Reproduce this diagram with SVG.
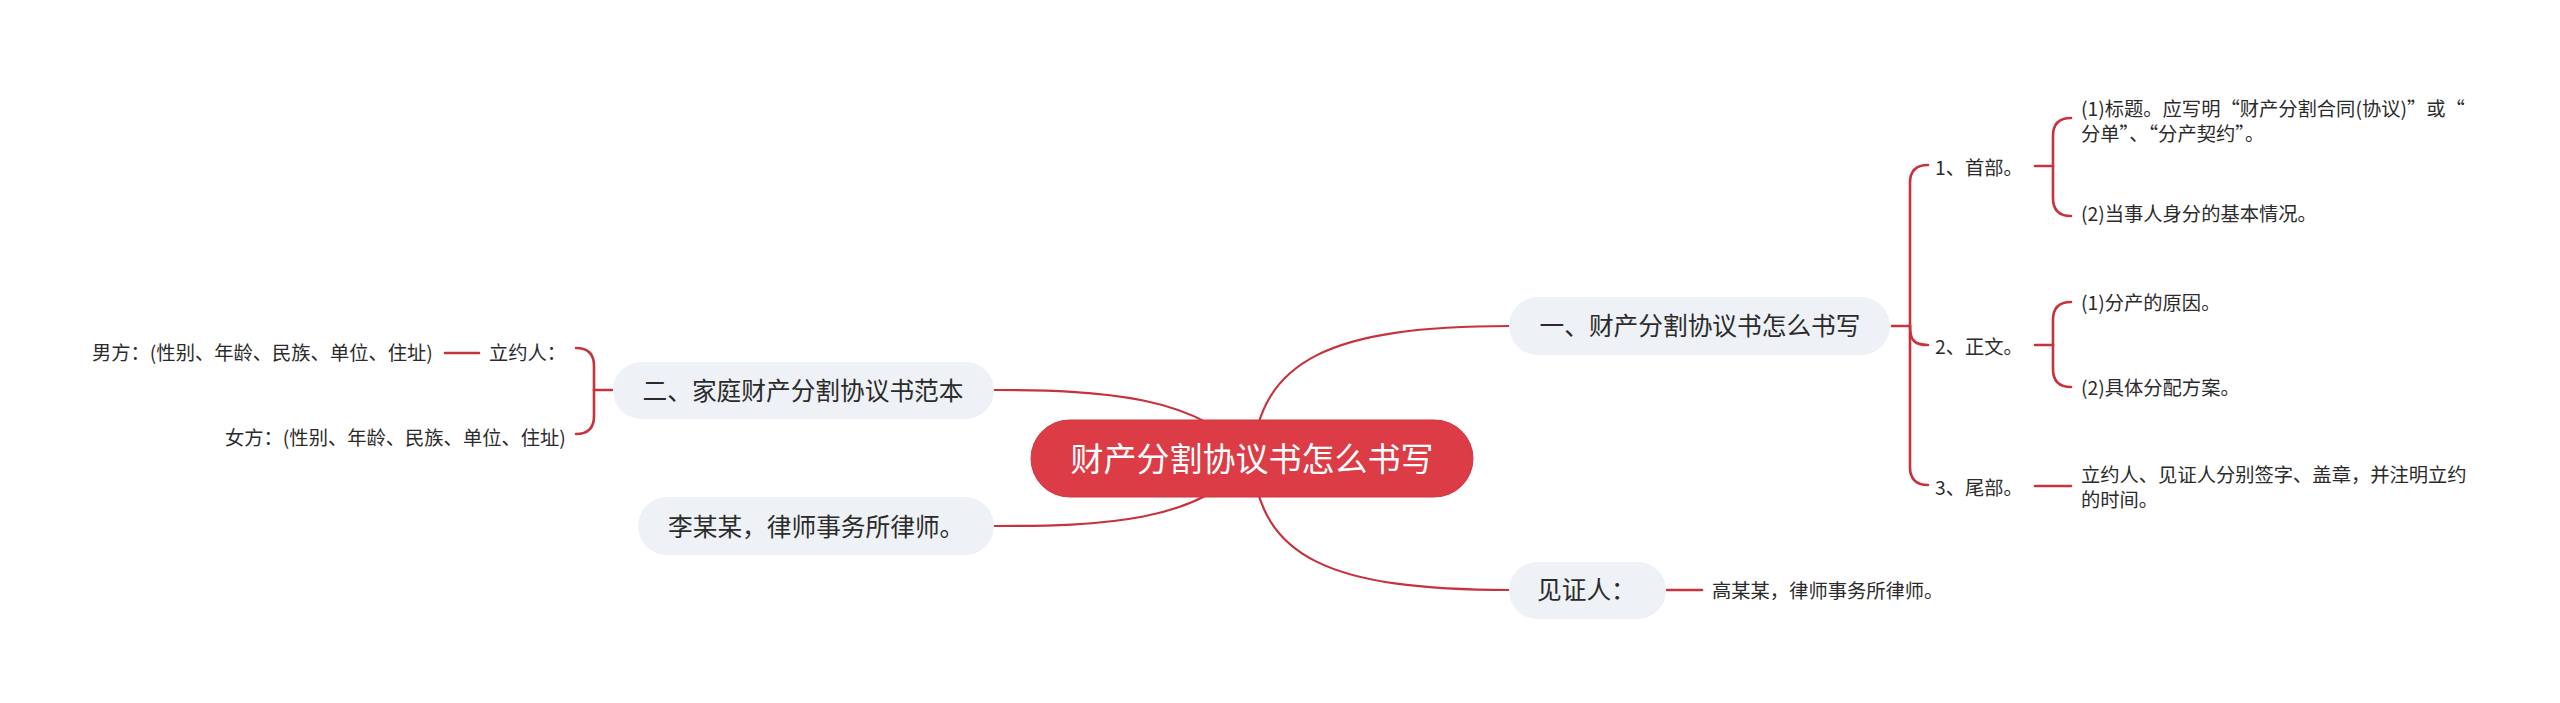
<svg xmlns="http://www.w3.org/2000/svg" width="2560" height="703" viewBox="0 0 2560 703">
<style>
text{font-family:"Noto Sans CJK SC","Noto Sans",sans-serif;fill:#2b2b2b}
.c{fill:none;stroke:#c8323d;stroke-width:2.2;stroke-linecap:round}
.t{fill:none;stroke:#c8323d;stroke-width:2.6;stroke-linecap:round}
.n{fill:#eef1f5}
.f1{font-size:33px;fill:#ffffff}
.f2{font-size:24.7px}
.f3{font-size:19.3px}
</style>
<rect width="2560" height="703" fill="#ffffff"/>
<g id="connectors">
<path class="c" d="M1252,459 C1260,360 1330,326 1510,326"/>
<path class="c" d="M1252,459 C1260,558 1330,590 1510,590"/>
<path class="c" d="M1252,459 C1200,395 1100,390 994,390"/>
<path class="c" d="M1252,459 C1200,523 1100,526 994,526"/>
<path class="t" d="M1892,326 H1910"/>
<path class="t" d="M1910,326 V183 Q1910,165 1928,165"/>
<path class="t" d="M1910,326 C1910,340 1914,345 1928,345"/>
<path class="t" d="M1910,326 V467 Q1910,485 1928,485"/>
<path class="t" d="M2035,166 H2053"/>
<path class="t" d="M2053,166 V136 Q2053,118 2071,118"/>
<path class="t" d="M2053,166 V198 Q2053,216 2071,216"/>
<path class="t" d="M2035,345 H2053"/>
<path class="t" d="M2053,345 V320 Q2053,302 2071,302"/>
<path class="t" d="M2053,345 V369 Q2053,387 2071,387"/>
<path class="t" d="M2035,486 H2071"/>
<path class="t" d="M1667,590 H1702"/>
<path class="t" d="M612,390 H594"/>
<path class="t" d="M594,390 V366 Q594,348 576,348"/>
<path class="t" d="M594,390 V416 Q594,434 576,434"/>
<path class="t" d="M445,353 H479"/>
</g>
<g id="root">
<rect x="1031" y="420" width="442" height="77" rx="38.5" fill="#db3c46" stroke="#cf3540" stroke-width="1"/>
<text class="f1" x="1252" y="471" text-anchor="middle">财产分割协议书怎么书写</text>
</g>
<g id="n1">
<rect class="n" x="1509" y="297" width="381" height="58" rx="29"/>
<text class="f2" x="1700" y="335" text-anchor="middle">一、财产分割协议书怎么书写</text>
</g>
<g id="n1-1"><text class="f3" x="1935" y="175">1、首部。</text></g>
<g id="n1-1-1"><text class="f3" x="2081" y="116">(1)标题。应写明“财产分割合同(协议)”或“</text><text class="f3" x="2081" y="141">分单”、“分产契约”。</text></g>
<g id="n1-1-2"><text class="f3" x="2081" y="221">(2)当事人身分的基本情况。</text></g>
<g id="n1-2"><text class="f3" x="1935" y="354">2、正文。</text></g>
<g id="n1-2-1"><text class="f3" x="2081" y="310">(1)分产的原因。</text></g>
<g id="n1-2-2"><text class="f3" x="2081" y="395">(2)具体分配方案。</text></g>
<g id="n1-3"><text class="f3" x="1935" y="495">3、尾部。</text></g>
<g id="n1-3-1"><text class="f3" x="2081" y="482">立约人、见证人分别签字、盖章，并注明立约</text><text class="f3" x="2081" y="507">的时间。</text></g>
<g id="n2">
<rect class="n" x="1509" y="562" width="157" height="57" rx="28.5"/>
<text class="f2" x="1537" y="599">见证人：</text>
</g>
<g id="n2-1"><text class="f3" x="1712" y="598">高某某，律师事务所律师。</text></g>
<g id="n3">
<rect class="n" x="613" y="362" width="381" height="57" rx="28.5"/>
<text class="f2" x="803" y="400" text-anchor="middle">二、家庭财产分割协议书范本</text>
</g>
<g id="n3-1"><text class="f3" x="489" y="360">立约人：</text></g>
<g id="n3-1-1"><text class="f3" x="92" y="360">男方：(性别、年龄、民族、单位、住址)</text></g>
<g id="n3-2"><text class="f3" x="225" y="445">女方：(性别、年龄、民族、单位、住址)</text></g>
<g id="n4">
<rect class="n" x="638" y="497" width="356" height="58" rx="29"/>
<text class="f2" x="668" y="536">李某某，律师事务所律师。</text>
</g>
</svg>
